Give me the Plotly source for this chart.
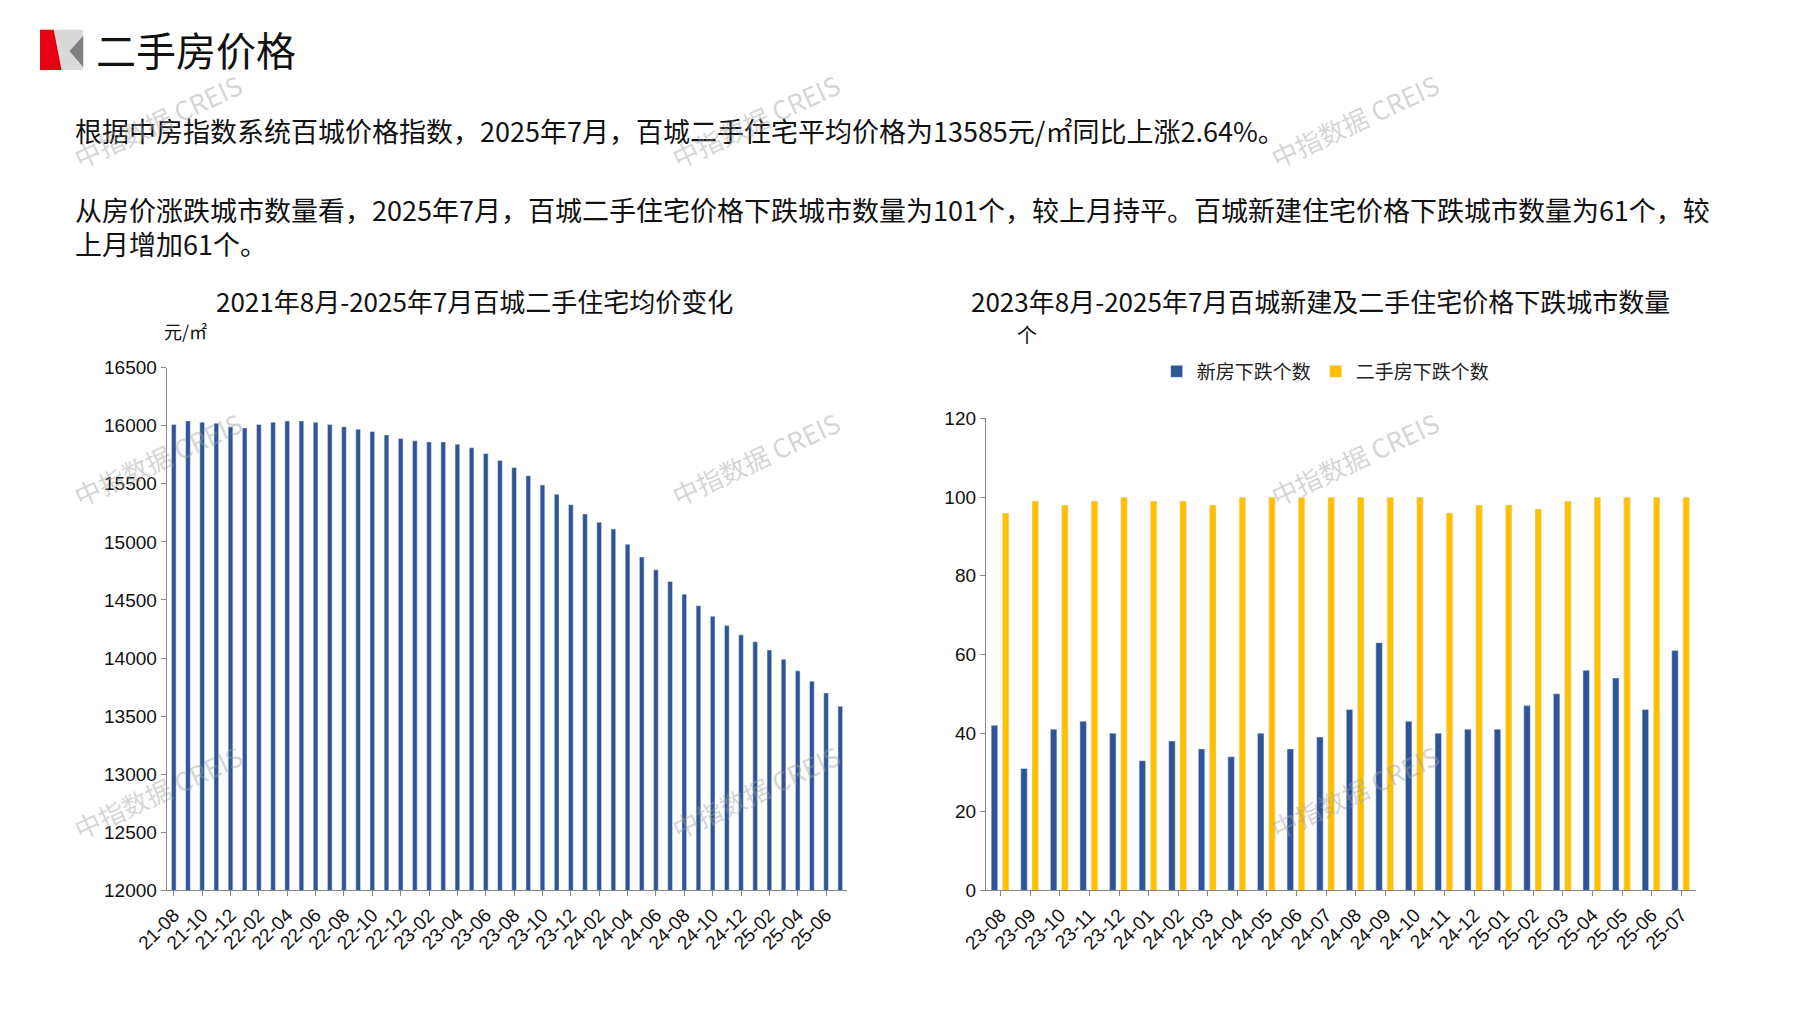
import plotly.graph_objects as go

W, H = 1797, 1010
months_l = [f"{y:02d}-{m:02d}" for y in range(21, 26) for m in range(1, 13)]
months_l = months_l[months_l.index("21-08"):months_l.index("25-07") + 1]
price = [16010, 16040, 16030, 16020, 15990, 15980, 16010, 16030, 16040, 16040, 16030, 16010,
         15990, 15970, 15950, 15920, 15890, 15870, 15860, 15860, 15840, 15810, 15760, 15700,
         15640, 15570, 15490, 15410, 15320, 15240, 15170, 15110, 14980, 14870, 14760, 14660,
         14550, 14450, 14360, 14280, 14200, 14140, 14070, 13990, 13890, 13800, 13700, 13585]
months_r = months_l[months_l.index("23-08"):]
new_fall = [42, 31, 41, 43, 40, 33, 38, 36, 34, 40, 36, 39, 46, 63, 43, 40, 41, 41, 47, 50, 56, 54, 46, 61]
old_fall = [96, 99, 98, 99, 100, 99, 99, 98, 100, 100, 100, 100, 100, 100, 100, 96, 98, 98, 97, 99, 100, 100, 100, 100]

FONT = "Noto Sans CJK SC"
BLUE, YEL = "#2F5597", "#FFC000"

def px(x): return x / W
def py(y): return 1 - y / H

fig = go.Figure()
fig.add_trace(go.Bar(x=months_l, y=price, marker_color=BLUE, width=0.33, showlegend=False,
                     xaxis="x", yaxis="y"))
fig.add_trace(go.Bar(x=months_r, y=new_fall, name="新房下跌个数", marker_color=BLUE, width=0.22,
                     offset=-0.32, xaxis="x2", yaxis="y2"))
fig.add_trace(go.Bar(x=months_r, y=old_fall, name="二手房下跌个数", marker_color=YEL, width=0.22,
                     offset=0.06, xaxis="x2", yaxis="y2"))

axcommon = dict(showline=True, linecolor="#888", ticks="outside", tickcolor="#888", ticklen=5,
                tickfont=dict(size=19, color="#111", family="Arial"), showgrid=False, zeroline=False)
fig.update_layout(
    width=W, height=H, paper_bgcolor="white", plot_bgcolor="white",
    margin=dict(l=0, r=0, t=0, b=0), barmode="overlay",
    font=dict(family=FONT, color="#222"),
    xaxis=dict(domain=[px(129), px(822)], anchor="y", tickangle=-45,
               tickvals=months_l[::2], type="category", **axcommon),
    yaxis=dict(domain=[py(891), py(357)], anchor="x", range=[12000, 16500], dtick=500,
               tickformat="d", **axcommon),
    xaxis2=dict(domain=[px(963), px(1686)], anchor="y2", tickangle=-45, type="category", **axcommon),
    yaxis2=dict(domain=[py(891), py(409)], anchor="x2", range=[0, 120], dtick=20, **axcommon),
    legend=dict(orientation="h", x=px(1309), xanchor="center", y=py(361), yanchor="middle",
                font=dict(size=19, family=FONT), itemwidth=30),
)

ann = [
    dict(text="二手房价格", x=px(55), y=py(32), size=40, xanchor="left"),
    dict(text="根据中房指数系统百城价格指数，2025年7月，百城二手住宅平均价格为13585元/㎡同比上涨2.64%。",
         x=px(34), y=py(115), size=27, xanchor="left"),
    dict(text="从房价涨跌城市数量看，2025年7月，百城二手住宅价格下跌城市数量为101个，较上月持平。百城新建住宅价格下跌城市数量为61个，较",
         x=px(34), y=py(196), size=27, xanchor="left"),
    dict(text="上月增加61个。", x=px(34), y=py(230), size=27, xanchor="left"),
    dict(text="2021年8月-2025年7月百城二手住宅均价变化", x=px(442), y=py(288), size=26, xanchor="center"),
    dict(text="2023年8月-2025年7月百城新建及二手住宅价格下跌城市数量", x=px(1304), y=py(288), size=26, xanchor="center"),
    dict(text="元/㎡", x=px(148), y=py(320), size=18, xanchor="center"),
    dict(text="个", x=px(1005), y=py(323), size=20, xanchor="center"),
]
for a in ann:
    fig.add_annotation(text=a["text"], x=a["x"], y=a["y"], xref="paper", yref="paper",
                       xanchor=a["xanchor"], yanchor="middle", showarrow=False,
                       font=dict(size=a["size"], family=FONT, color="#111"))

for wx in (120, 728, 1338):
    for wy in (105, 450, 790):
        fig.add_annotation(text="中指数据 CREIS", x=px(wx), y=py(wy), xref="paper", yref="paper",
                           xanchor="center", yanchor="middle",
                           showarrow=False, textangle=-25,
                           font=dict(size=26, family=FONT, color="rgba(160,160,160,0.45)"))

def path(pts):
    return "M " + " L ".join(f"{px(x)},{py(y)}" for x, y in pts) + " Z"
fig.add_shape(type="path", path=path([(14, 12), (44, 12), (44, 53), (22, 53)]),
              xref="paper", yref="paper", fillcolor="#d9d9d9", line_width=0)
fig.add_shape(type="path", path=path([(44, 18), (44, 50), (30, 34)]),
              xref="paper", yref="paper", fillcolor="#7f7f7f", line_width=0)
fig.add_shape(type="path", path=path([(0, 12), (14, 12), (22, 53), (0, 53)]),
              xref="paper", yref="paper", fillcolor="#e60012", line_width=0)

fig.write_html("out.html")
